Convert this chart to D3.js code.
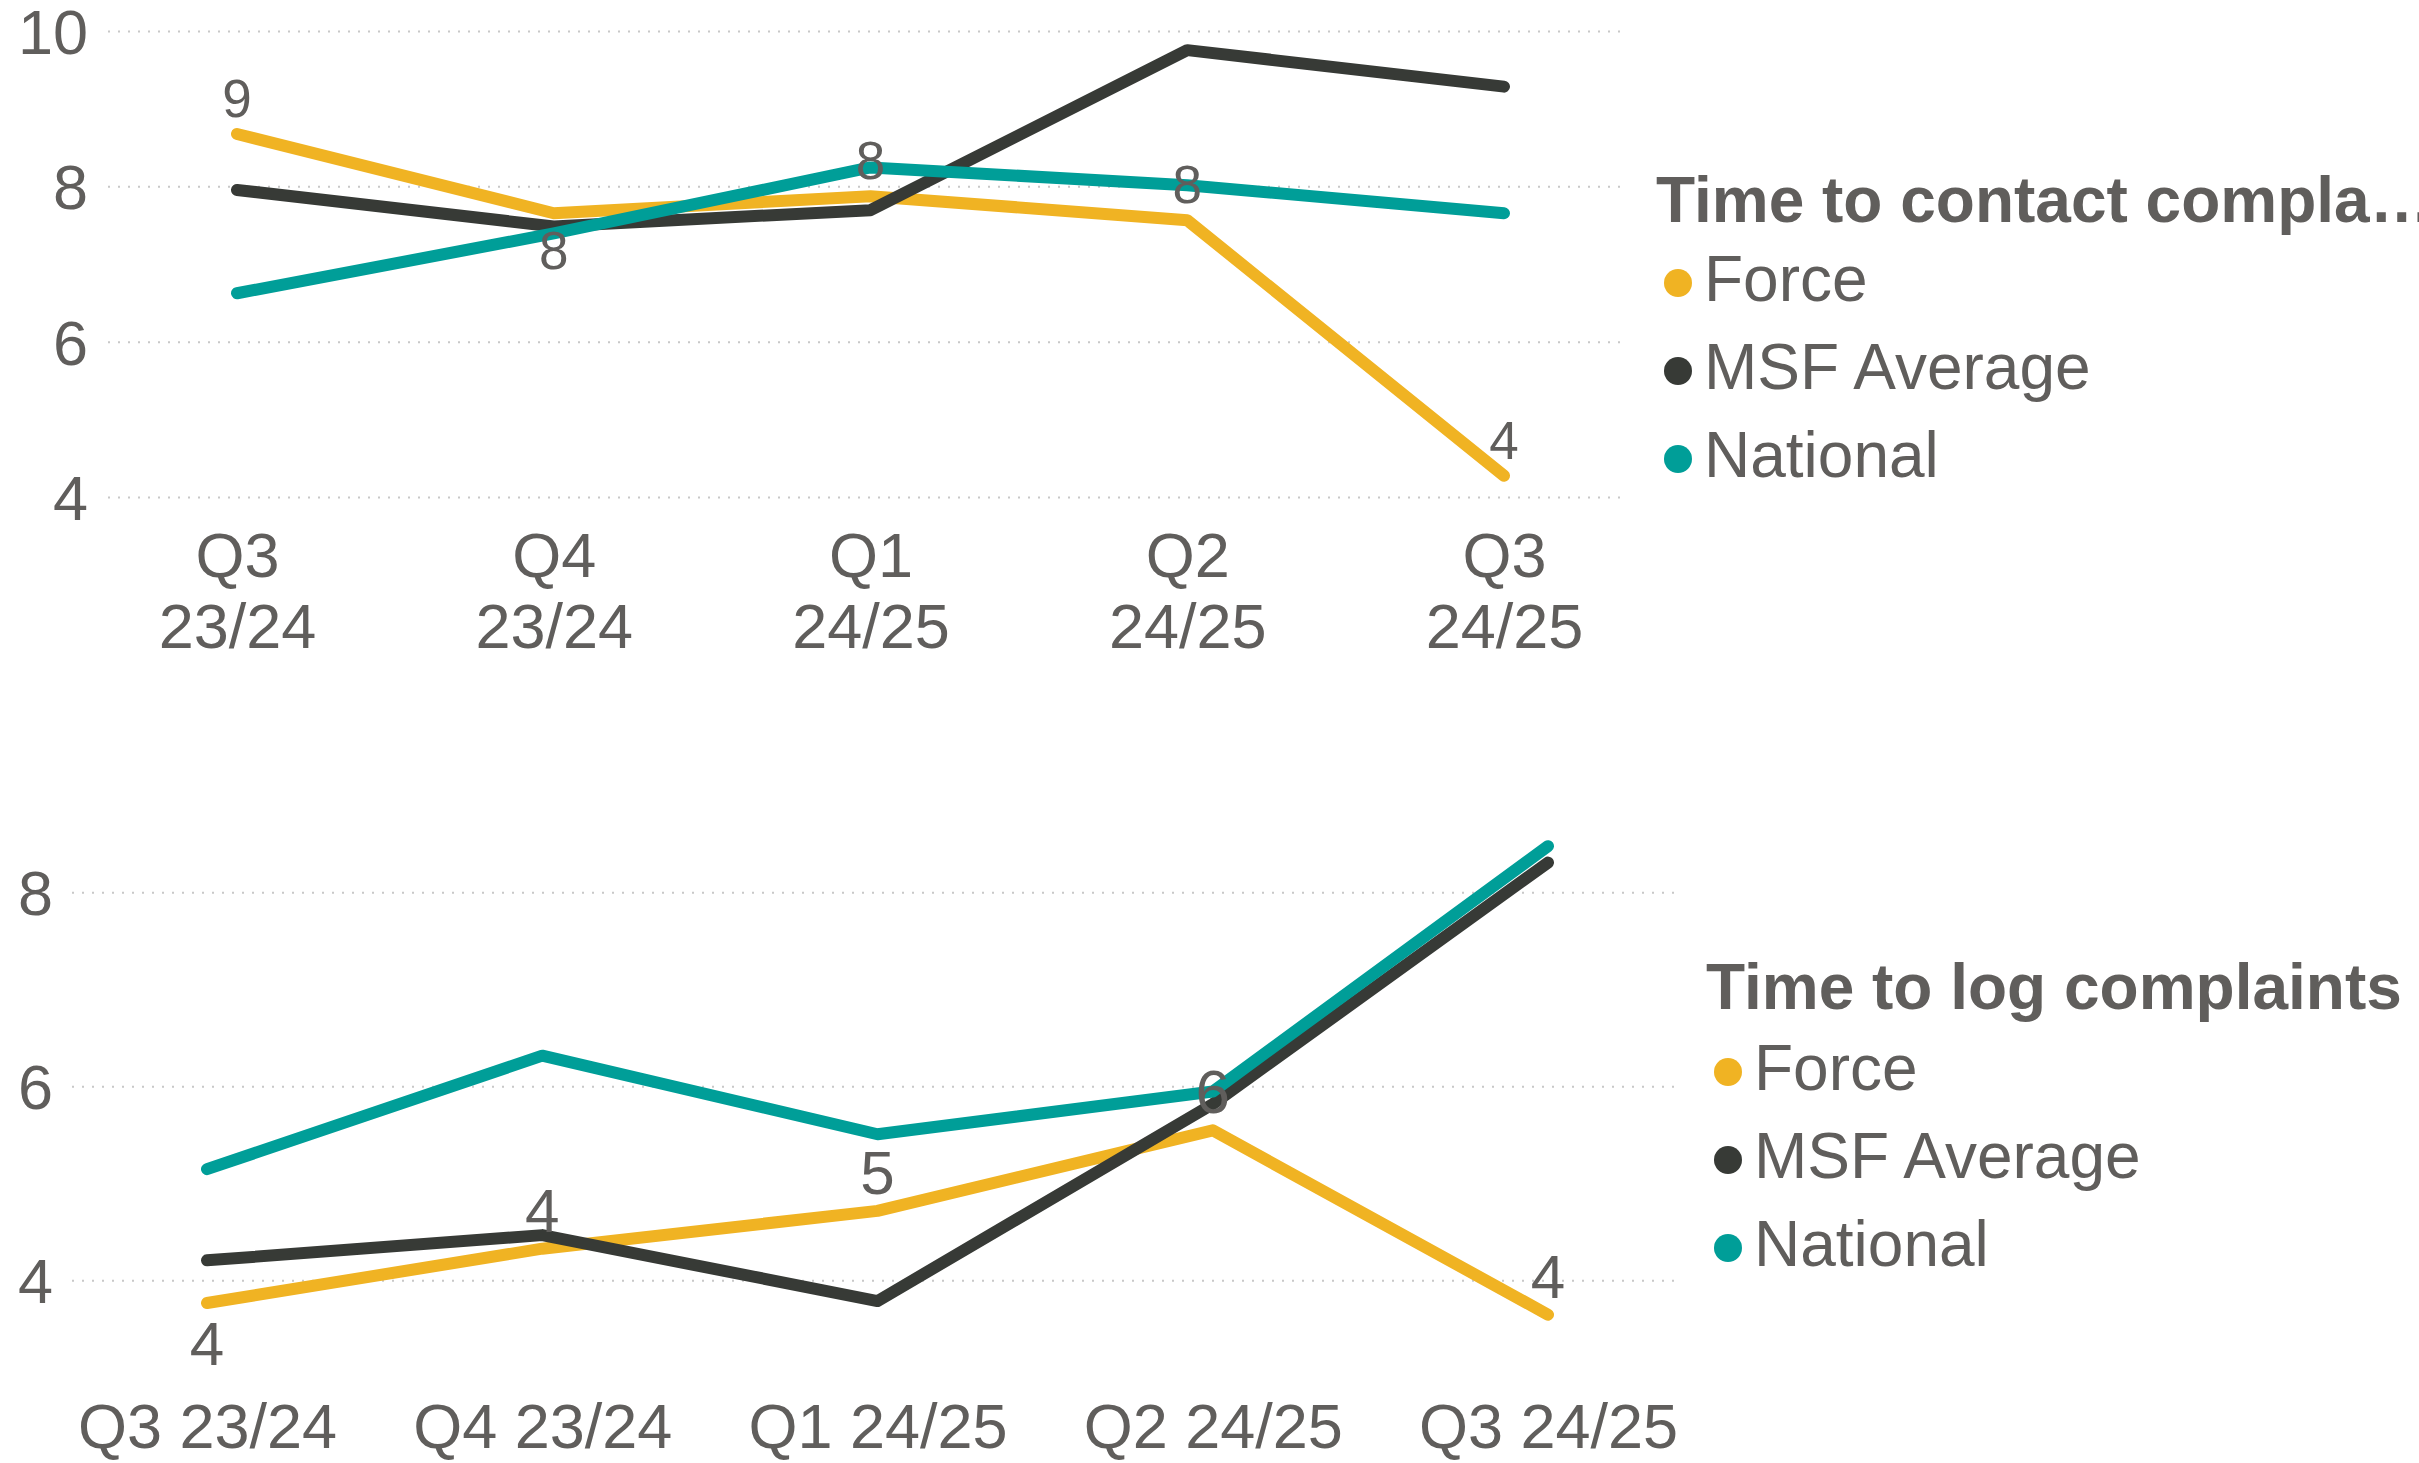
<!DOCTYPE html>
<html>
<head>
<meta charset="utf-8">
<script src="https://cdn.jsdelivr.net/npm/d3@7"></script>
<style>
  html, body { margin: 0; padding: 0; background: #ffffff; }
  svg { display: block; }
  text { font-family: "Liberation Sans", Arial, sans-serif; fill: #605E5C; }
</style>
</head>
<body>
<svg id="chart" width="2419" height="1463"></svg>
<script>
// ---------- data ----------
const categories = ["Q3 23/24", "Q4 23/24", "Q1 24/25", "Q2 24/25", "Q3 24/25"];
const seriesNames = ["Force", "MSF Average", "National"];
const seriesColors = ["#F0B323", "#373A36", "#009E98"];

// Chart 1: Time to contact complainants
const contactTitle = "Time to contact complainants";
const contactForce    = [8.68, 7.66, 7.88, 7.57, 4.28];
const contactMSF      = [7.96, 7.49, 7.70, 9.76, 9.29];
const contactNational = [6.63, 7.40, 8.25, 8.02, 7.66];
const contactTicks = [4, 6, 8, 10];
const contactLabelSide = ["above", "below", "above", "above", "above"];

// Chart 2: Time to log complaints
const logTitle = "Time to log complaints";
const logForce    = [3.77, 4.33, 4.72, 5.55, 3.65];
const logMSF      = [4.21, 4.47, 3.79, 5.82, 8.31];
const logNational = [5.15, 6.32, 5.51, 5.95, 8.48];
const logTicks = [4, 6, 8];
const logLabelSide = ["below", "above", "above", "above", "above"];

// ---------- drawing ----------
const svg = d3.select("#chart");
const fmt = d3.format(".0f");

function drawChart(cfg) {
  const g = svg.append("g");
  const x = d3.scalePoint().domain(categories).range(cfg.xRange);
  const y = d3.scaleLinear().domain(cfg.yDomain).range(cfg.yRange);

  // gridlines
  g.append("g").selectAll("line").data(cfg.ticks).join("line")
    .attr("x1", cfg.gridX[0]).attr("x2", cfg.gridX[1])
    .attr("y1", d => y(d)).attr("y2", d => y(d))
    .attr("stroke", "#C8C8C8").attr("stroke-width", 2)
    .attr("stroke-dasharray", "2,8");

  // y axis labels
  const yAxis = d3.axisLeft(y).tickValues(cfg.ticks).tickSize(0).tickPadding(0).tickFormat(d3.format("d"));
  const ya = g.append("g").attr("transform", `translate(${cfg.yLabelX},0)`).call(yAxis);
  ya.select(".domain").remove();
  ya.selectAll("text").attr("font-size", 63).attr("fill", "#605E5C")
    .attr("font-family", "Liberation Sans, Arial, sans-serif").attr("dy", "0.35em");

  // x axis labels
  const xAxis = d3.axisBottom(x).tickSize(0).tickPadding(0);
  const xa = g.append("g").attr("transform", `translate(0,${cfg.xLabelY})`).call(xAxis);
  xa.select(".domain").remove();
  xa.selectAll("text").attr("font-size", 63).attr("fill", "#605E5C")
    .attr("font-family", "Liberation Sans, Arial, sans-serif").attr("dy", 0)
    .each(function (d) {
      const t = d3.select(this);
      if (cfg.wrap) {
        const parts = d.split(" ");
        t.text(null);
        parts.forEach((p, i) => {
          t.append("tspan").attr("x", 0).attr("dy", i === 0 ? 0 : cfg.lineGap).text(p);
        });
      }
    });

  // lines
  const line = d3.line().x((d, i) => x(categories[i])).y(d => y(d));
  cfg.series.forEach((s, k) => {
    g.append("path").datum(s)
      .attr("d", line)
      .attr("fill", "none")
      .attr("stroke", seriesColors[k])
      .attr("stroke-width", 12)
      .attr("stroke-linecap", "round")
      .attr("stroke-linejoin", "round");
  });

  // data labels (Force series)
  const fs = cfg.labelSize;
  g.append("g").selectAll("text").data(cfg.series[0]).join("text")
    .attr("x", (d, i) => x(categories[i]))
    .attr("y", (d, i) => cfg.labelSide[i] === "above" ? y(d) - 17 : y(d) + 18 + fs * 0.716)
    .attr("text-anchor", "middle")
    .attr("font-size", fs)
    .text(d => fmt(d));

  // legend
  const lg = g.append("g");
  const title = lg.append("text")
    .attr("x", cfg.legendX).attr("y", cfg.legendTitleY)
    .attr("font-size", 64).attr("font-weight", "bold")
    .text(cfg.title);
  const maxW = 2419 - cfg.legendX + 16;
  if (title.node().getComputedTextLength() > maxW) {
    let s = cfg.title;
    while (s.length > 0) {
      s = s.slice(0, -1);
      title.text(s + "…");
      if (title.node().getComputedTextLength() <= maxW) break;
    }
  }
  seriesNames.forEach((name, k) => {
    const by = cfg.legendFirstY + k * cfg.legendStep;
    lg.append("circle")
      .attr("cx", cfg.legendX + 22).attr("cy", by - 18).attr("r", 14)
      .attr("fill", seriesColors[k]);
    lg.append("text")
      .attr("x", cfg.legendX + 48).attr("y", by)
      .attr("font-size", 64)
      .text(name);
  });
}

drawChart({
  series: [contactForce, contactMSF, contactNational],
  ticks: contactTicks,
  labelSide: contactLabelSide,
  title: contactTitle,
  xRange: [237, 1504],
  yDomain: [4, 10],
  yRange: [497.5, 31.5],
  gridX: [108, 1624],
  yLabelX: 88,
  xLabelY: 577,
  wrap: true,
  lineGap: 71,
  labelSize: 53,
  legendX: 1656,
  legendTitleY: 222,
  legendFirstY: 301,
  legendStep: 88
});

drawChart({
  series: [logForce, logMSF, logNational],
  ticks: logTicks,
  labelSide: logLabelSide,
  title: logTitle,
  xRange: [207, 1548],
  yDomain: [4, 8],
  yRange: [1280.7, 892.7],
  gridX: [72, 1680],
  yLabelX: 53,
  xLabelY: 1448,
  wrap: false,
  lineGap: 0,
  labelSize: 62,
  legendX: 1706,
  legendTitleY: 1009,
  legendFirstY: 1090,
  legendStep: 88
});
</script>
</body>
</html>
